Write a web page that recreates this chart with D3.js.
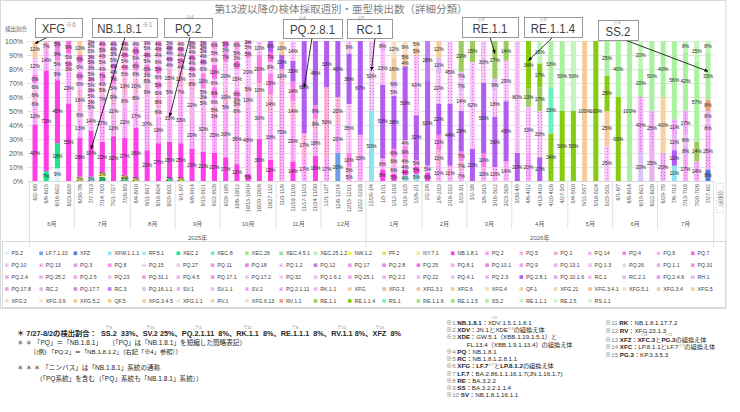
<!DOCTYPE html>
<html><head><meta charset="utf-8">
<script src="https://cdn.jsdelivr.net/npm/d3@7"></script>
<style>
body{margin:0;background:#fff}
svg{display:block}
text{font-family:"Liberation Sans","Noto Sans CJK JP",Arial,sans-serif;white-space:pre}
</style>
</head><body>
<svg id="c" width="740" height="412"></svg>
<script>
// ---------------- DATA ----------------
const seriesNames = [
 "PS.2","LF.7.1.10","XFZ","XFW.1.1.1","RF.5.1","XEC.2","XEC.8","XEC.26","XEC.4.5.1","XEC.25.1.2","NW.1.2","PF.2","NY.7.1","NB.1.8.1","PQ.2","PQ.5","PQ.1","PQ.14","PQ.4","PQ.6","PQ.7",
 "PQ.10","PQ.13","PQ.3","PQ.8","PQ.15","PQ.27","PQ.11","PQ.18","PQ.1.2","PQ.12","PQ.17","PQ.2.8","PQ.25","PQ.8.1","PQ.10.1","PQ.9","PQ.13.1","PQ.1.3","PQ.26","PQ.1.1","PQ.31",
 "PQ.2.4","PQ.25.2","PQ.2.5","PQ.23","PQ.31.1","PQ.4.5","PQ.17.1","PQ.17.2","PQ.32","PQ.1.6.1","PQ.25.1","PQ.2.2","PQ.22","PQ.4.1","PQ.2.3","PQ.2.8.1","PQ.10.1.6","RC.1","RC.2.1","PQ.2.4.6","RH.1",
 "PQ.17.8","RC.2","PQ.17.7","RC.3","PQ.16.1.1","SV.1","SV.1.1","SV.2","PQ.2.1.11","RK.1.1","XFG","XFG.3","XFG.3.1","XFG.6","XFG.4","QF.1","XFG.21","XFG.3.4.1","XFG.5.1","XFG.3.4","XFG.5",
 "XFG.2","XFG.3.9","XFG.5.2","QF.5","XFG.3.4.5","XFG.1.1","RV.1","XFG.6.13","RV.1.1","RE.1.1","RE.1.1.4","RS.1","RE.1.1.6","RE.1.1.5","SS.2","RE.1.1.1","RE.2.5","RS.1.1"
];
const seriesColors = [
 "#d8f4fa","#6f9fe6","#4f7fd8","#8fe3f5","#a6e9f4","#19e68c","#6ff2c0","#9ef07a","#8ee6a0","#b4f0b4","#f0f050","#e6e65a","#eded8a","#ff3ee8","#f59df0","#f4b3ee","#f3a3c9","#f2b0f4","#fb7fe8","#f7b3f3","#f56be0",
 "#f5c0f5","#f0a6ef","#f29ae8","#fb8ceb","#f3c3f1","#f0c9ef","#f492e7","#f77ee4","#f1b8f0","#c777ee","#ef9ae6","#f486e4","#f470e0","#f3b0ee","#f27fe6","#f29df0","#e9b6f5","#eebff3","#f3d0f3","#f2a9ee","#f391e8",
 "#f2a6ef","#f0b0ee","#f3a8f0","#f0c2f0","#f29ce8","#f2b1ee","#f197e6","#f0c5f0","#f0d0f2","#efbff2","#f5a4ee","#f1b6f1","#f1bbf0","#f0c0f2","#eab3f5","#b25cf2","#e7a8f3","#e8b2f2","#e3b6f5","#e2a2f4","#e7a9ef",
 "#f0a0e8","#ddb6f3","#c98cf0","#c07df2","#d9c4f3","#eab0f0","#efbff3","#e49eef","#e9a6f3","#eeb6f0","#f6cc9c","#f0b88f","#f3c29a","#f1cc9a","#f5dfb5","#f3d39e","#f1d6b6","#f0c08d","#f7e2bf","#efc9a8","#f6d2a0",
 "#f4e1c4","#f5e7c9","#f4ca8e","#f3d291","#f4cd9c","#f5ebd5","#f3d6a5","#f2e0c2","#f0a07a","#9ccc5c","#86cc12","#6ff2c1","#a4e27a","#95e86f","#aaf2a0","#c3f5bd","#cdf7cd","#d2f4d2"
];
const dottedSeries = ["PQ.2","PQ.14","PQ.6","PQ.13","PQ.15","PQ.1.2","RC.1","SV.2","PQ.2.1.11","RH.1","PQ.1"];

const weekLabels = [
 "6/2-6/8","6/9-6/15","6/16-6/22","6/23-6/29","6/30-7/6","7/7-7/13","7/14-7/20","7/21-7/27","7/28-8/3",
 "8/4-8/10","8/11-8/17","8/18-8/24","8/25-8/31","9/1-9/7","9/8-9/14","9/15-9/21","9/22-9/28",
 "9/29-10/5","10/6-10/12","10/13-10/19","10/20-10/26","10/27-11/2","11/3-11/9","11/10-11/16","11/17-11/23","11/24-11/30",
 "12/1-12/7","12/8-12/14","12/15-12/21","12/22-12/28",
 "12/29-1/4","1/5-1/11","1/12-1/18","1/19-1/25","1/26-2/1","2/2-2/8","2/9-2/15","2/16-2/22","2/23-3/1",
 "3/2-3/8","3/9-3/15","3/16-3/22","3/23-3/29","3/30-4/5","4/6-4/12","4/13-4/19","4/20-4/26","4/27-5/3",
 "5/4-5/10","5/11-5/17","5/18-5/24","5/25-5/31","6/1-6/7","6/8-6/14","6/15-6/21","6/22-6/28",
 "6/29-7/5","7/6-7/12","7/13-7/19","7/20-7/26","7/27-8/2"
];
const monthGroups = [["6月",4],["7月",5],["8月",4],["9月",4],["10月",5],["11月",4],["12月",4],
                     ["1月",5],["2月",4],["3月",4],["4月",5],["5月",4],["6月",4],["7月",5]];
const yearGroups = [["2025年",30],["2026年",31]];
const yTicks = [0,0.1,0.2,0.3,0.4,0.5,0.6,0.7,0.8,0.9,1];

// per-week detections (%), series name / value pairs
const weekMix = [
 ["NB.1.8.1",40,"PQ.2",12,"PQ.5",6,"PQ.1",6,"PQ.14",6,"PQ.4",6,"PQ.6",12,"XFG",12],
 ["XEC.2",7,"NB.1.8.1",72,"PQ.2",14,"PQ.1",7],
 ["PS.2",9,"XEC.2",18,"NB.1.8.1",45,"PQ.2",9,"PQ.5",5,"PQ.4",9,"PQ.7",5],
 ["NB.1.8.1",55,"PQ.2",23,"PQ.1",3,"PQ.4",5,"PQ.6",5,"PQ.7",9],
 ["NW.1.2",3,"NB.1.8.1",28,"PQ.2",13,"PQ.5",6,"PQ.1",16,"PQ.14",6,"PQ.4",6,"PQ.6",6,"PQ.7",6,"XFG",10],
 ["XFW.1.1.1",3,"NB.1.8.1",33,"PQ.2",14,"PQ.5",5,"PQ.1",3,"PQ.14",5,"PQ.4",3,"PQ.6",5,"PQ.7",3,"PQ.10",5,"PQ.13",3,"PQ.3",5,"PQ.8",3,"PQ.15",5,"PQ.27",3,"PQ.11",2],
 ["XEC.2",3,"NW.1.2",3,"NB.1.8.1",22,"PQ.2",27,"PQ.5",7,"PQ.1",5,"PQ.14",4,"PQ.4",7,"PQ.6",4,"PQ.10",5,"PQ.13",4,"PQ.3",5,"PQ.8",4],
 ["NB.1.8.1",32,"PQ.2",12,"PQ.5",11,"PQ.1",9,"PQ.14",5,"PQ.4",7,"PQ.6",4,"PQ.7",4,"PQ.10",5,"PQ.13",3,"PQ.3",4,"PQ.8",4],
 ["XEC.8",2,"NW.1.2",2,"NB.1.8.1",27,"PQ.2",22,"PQ.5",8,"PQ.1",13,"PQ.14",5,"PQ.4",4,"PQ.6",5,"PQ.7",4,"PQ.10",4,"PQ.3",4],
 ["NW.1.2",2,"NB.1.8.1",36,"PQ.2",17,"PQ.5",8,"PQ.1",10,"PQ.14",6,"PQ.4",6,"PQ.6",5,"PQ.7",6,"PQ.10",4],
 ["NB.1.8.1",22,"PQ.2",37,"PQ.5",9,"PQ.1",6,"PQ.14",3,"PQ.4",6,"PQ.6",5,"PQ.7",4,"PQ.10",5,"PQ.13",3],
 ["NB.1.8.1",27,"PQ.2",19,"PQ.5",6,"PQ.1",8,"PQ.14",6,"PQ.4",5,"PQ.6",6,"PQ.7",5,"PQ.10",6,"PQ.13",4,"PQ.3",4,"PQ.8",4],
 ["XEC.8",2,"NB.1.8.1",26,"PQ.2",33,"PQ.5",5,"PQ.1",15,"PQ.14",4,"PQ.4",4,"PQ.6",4,"PQ.7",4,"PQ.10",3],
 ["NW.1.2",2,"NB.1.8.1",25,"PQ.2",33,"PQ.5",7,"PQ.1",12,"PQ.14",4,"PQ.4",5,"PQ.6",4,"PQ.7",4,"PQ.10",4],
 ["NB.1.8.1",23,"PQ.2",20,"PQ.5",22,"PQ.1",8,"PQ.14",5,"PQ.4",4,"PQ.6",4,"PQ.7",4,"PQ.10",4,"PQ.13",3,"PQ.3",3],
 ["NB.1.8.1",21,"PQ.2",32,"PQ.5",5,"PQ.1",3,"PQ.14",5,"PQ.4",11,"PQ.6",6,"PQ.7",4,"PQ.10",4,"PQ.13",3,"PQ.3",3,"PQ.8",3],
 ["NB.1.8.1",20,"PQ.2",25,"PQ.5",3,"PQ.1",5,"PQ.14",6,"PQ.4",8,"PQ.6",6,"PQ.7",10,"PQ.10",6,"PQ.13",5,"PQ.3",6],
 ["NB.1.8.1",17,"PQ.2",33,"PQ.5",5,"PQ.1",10,"PQ.14",20,"PQ.4",7,"PQ.6",3,"PQ.7",5],
 ["NB.1.8.1",12,"PQ.2",35,"PQ.5",6,"PQ.1",3,"PQ.14",3,"PQ.4",6,"PQ.6",15,"PQ.7",6,"PQ.10",3,"PQ.13",5,"PQ.3",6],
 ["NB.1.8.1",5,"PQ.2",48,"PQ.5",10,"PQ.1",5,"PQ.14",20,"PQ.4",5,"PQ.6",5,"PQ.7",2],
 ["NB.1.8.1",30,"PQ.2",30,"PQ.1",10,"PQ.4",20,"PQ.6",10],
 ["NB.1.8.1",15,"PQ.2",33,"PQ.1",14,"PQ.4",15,"PQ.6",8,"PQ.7",7,"PQ.2.8.1",8],
 ["PQ.2",70,"PQ.1",10,"PQ.2.8.1",10,"XFG",10],
 ["NB.1.8.1",14,"PQ.2",29,"PQ.1",14,"PQ.4",14,"PQ.2.8.1",15,"RC.1",14],
 ["PQ.2",17,"PQ.1",17,"PQ.2.8.1",66],
 ["NB.1.8.1",18,"PQ.2",18,"PQ.1",9,"PQ.4",9,"PQ.2.8.1",46],
 ["PQ.2",17,"PQ.1",50,"PQ.2.8.1",33],
 ["LF.7.1.10",20,"PQ.2",20,"PQ.1",20,"PQ.2.8.1",40],
 ["PQ.2",5,"PQ.1",5,"PQ.4",10,"PQ.6",35,"PQ.2.8.1",36,"RC.1",9],
 ["PQ.2",33,"PQ.2.8.1",67],
 ["XFW.1.1.1",50,"RC.1",50],
 ["NB.1.8.1",8,"PQ.2",8,"PQ.2.8.1",53,"RC.1",23,"RH.1",8],
 ["NB.1.8.1",5,"PQ.2",6,"PQ.1",6,"PQ.4",6,"PQ.2.8.1",38,"RC.1",5,"RC.2.1",6,"XFG",16,"XFG.2",12],
 ["XFW.1.1.1",4,"NB.1.8.1",4,"PQ.2",4,"PQ.1",4,"PQ.4",9,"PQ.6",4,"PQ.2.8.1",53,"XFG",4,"XFG.3",5,"XFG.2",9],
 ["XFW.1.1.1",5,"NB.1.8.1",5,"PQ.2",5,"PQ.2.8.1",32,"RC.1",43,"XFG",5,"XFG.2",5],
 ["NB.1.8.1",6,"PQ.2",5,"PQ.2.8.1",61,"RC.3",28],
 ["PQ.2",11,"PQ.1",11,"PQ.4",11,"PQ.2.8.1",22,"RC.1",22,"RC.2.1",11,"XFG",12],
 ["PQ.2",11,"PQ.2.8.1",44,"RC.1",45],
 ["PQ.2",7,"PQ.1",7,"PQ.4",7,"PQ.2.8.1",29,"RC.1",14,"RC.2.1",7,"RH.1",7,"RE.1.1",22],
 ["PQ.2.8.1",23,"RC.1",62,"RE.1.1",15],
 ["PQ.2",10,"PQ.4",10,"PQ.2.8.1",50,"RC.1",30],
 ["PQ.2",10,"PQ.2.8.1",36,"RC.1",18,"RC.2.1",9,"RE.1.1",27],
 ["PQ.2",14,"PQ.2.8.1",43,"RC.1",29,"RE.1.1",14],
 ["PQ.2.8.1",20,"RC.1",80],
 ["PQ.2",20,"RC.1",33,"RE.1.1",13,"RE.1.1.4",34],
 ["PQ.2.8.1",17,"RC.1",33,"RE.1.1",17,"RE.1.1.4",17,"RE.1.1.1",16],
 ["RE.1.1.4",34,"RS.1",33,"SS.2",33],
 ["RE.1.1.4",50,"SS.2",50],
 ["RE.1.1.4",50,"RE.1.1.1",50],
 ["XFG",100],
 ["RE.1.1.4",100],
 ["RC.1",25,"XFG",25,"RE.1.1.4",25,"SS.2",25],
 ["RE.1.1.4",60,"SS.2",40],
 ["SS.2",100],
 ["PQ.16.1.1",20,"SV.2",40,"SS.2",20,"RE.1.1.1",20],
 ["SV.1",25,"SV.2",25,"SS.2",50],
 ["SV.2",20,"XFG.5",40,"SS.2",40],
 ["XFW.1.1.1",11,"PQ.2.8.1",11,"SV.1",11,"SV.2",11,"SS.2",56],
 ["PQ.2",17,"SV.1",8,"SV.1.1",8,"SV.2",17,"SS.2",42,"RE.1.1.1",8],
 ["SV.2",14,"RE.1.1",14,"SS.2",57,"RE.1.1.1",15],
 ["XFZ",8,"SV.2",25,"PQ.2.1.11",8,"RK.1.1",8,"RV.1.1",8,"SS.2",33,"RE.1.1.1",8]
];

// callouts: label, note, target week, target series, position along segment
const callouts = [
 ["XFG","※6",0,"XFG",0.85],
 ["NB.1.8.1","※1",5,"NB.1.8.1",0.6],
 ["PQ.2","※4",12,"PQ.2",0.55],
 ["PQ.2.8.1","※4",24,"PQ.2.8.1",0.5],
 ["RC.1","※5",30,"RC.1",0.58],
 ["RE.1.1","※8",41,"RE.1.1",0.67],
 ["RE.1.1.4","※8",44,"RE.1.1.4",0.59],
 ["SS.2","※9",60,"SS.2",0.6]
];
// ---------------- LAYOUT ----------------
const calloutLayout = [
 {x:35,y:18,w:47,h:19,inline:true,sx:48,sy:37},
 {x:92,y:18,w:65,h:19,inline:true,sx:125,sy:37},
 {x:164,y:18,w:48,h:19,nx:190,ny:18.5,sx:190,sy:37},
 {x:283,y:19,w:59,h:19,nx:302,ny:19.5,sx:312,sy:38},
 {x:347,y:19,w:45,h:19,nx:361,ny:19.5,sx:375,sy:38},
 {x:462,y:17,w:56,h:20,nx:481,ny:20.8,sx:490,sy:37},
 {x:524,y:17,w:58,h:20,nx:543,ny:20.8,sx:553,sy:37},
 {x:598,y:20,w:40,h:20,nx:617,ny:23.8,sx:625,sy:40}
];

const svg = d3.select("#c");
const defs = svg.append("defs");

// chart frame
svg.append("rect").attr("x",0.5).attr("y",0.5).attr("width",725.5).attr("height",308)
  .attr("fill","#fff").attr("stroke","#d9d9d9");

// patterns
const fillOf = {};
seriesNames.forEach((n,i)=>{
  const c = seriesColors[i];
  if (dottedSeries.includes(n)) {
    const id = "pat"+i;
    const p = defs.append("pattern").attr("id",id).attr("patternUnits","userSpaceOnUse").attr("width",3).attr("height",3);
    p.append("rect").attr("width",3).attr("height",3).attr("fill",d3.color(c).brighter(0.25));
    p.append("rect").attr("x",1).attr("y",1).attr("width",1).attr("height",1).attr("fill",d3.color(c).darker(0.7));
    fillOf[n] = `url(#${id})`;
  } else fillOf[n] = c;
});

// title
svg.append("text").attr("x",341).attr("y",13).attr("text-anchor","middle")
  .attr("font-size",10.5).attr("fill","#7f7f7f").attr("font-family","Noto Sans CJK JP")
  .text("第13波以降の検体採取週別・亜型検出数（詳細分類）");
svg.append("text").attr("x",5).attr("y",31).attr("font-size",5.5).attr("fill","#595959")
  .attr("font-family","Noto Sans CJK JP").text("検出割合");

// scales
const n = weekLabels.length;
const x = d3.scaleBand().domain(d3.range(n)).range([29.4,713.6]).paddingInner(0.55).paddingOuter(0.275);
const y = d3.scaleLinear().domain([0,1]).range([181,41]);
const bw = x.bandwidth();

// grid + y axis
const gy = svg.append("g").attr("transform","translate(27,0)")
  .call(d3.axisLeft(y).tickValues(yTicks).tickFormat(d3.format(".0%")).tickSize(-(713.6-27)).tickPadding(4));
gy.select(".domain").remove();
gy.selectAll(".tick line").attr("stroke","#d9d9d9").attr("stroke-width",0.7);
gy.selectAll(".tick text").attr("font-size",7).attr("fill","#595959");

// stack
const rows = weekMix.map((flat,i)=>{
  const r = {week:i};
  seriesNames.forEach(s=>r[s]=0);
  for (let k=0;k<flat.length;k+=2) r[flat[k]] = flat[k+1];
  return r;
});
const layers = d3.stack().keys(seriesNames).offset(d3.stackOffsetExpand)(rows);

const gBars = svg.append("g");
layers.forEach(layer=>{
  const name = layer.key;
  gBars.selectAll(null).data(layer.filter(d=>d.data[name]>0)).join("rect")
    .attr("x",d=>x(d.data.week)).attr("width",bw)
    .attr("y",d=>y(d[1])).attr("height",d=>y(d[0])-y(d[1]))
    .attr("fill",fillOf[name]);
});
const gLab = svg.append("g");
layers.forEach(layer=>{
  const name = layer.key;
  gLab.selectAll(null).data(layer.filter(d=>d.data[name]>0)).join("text")
    .attr("x",d=>x(d.data.week)+bw/2).attr("y",d=>(y(d[0])+y(d[1]))/2)
    .attr("dy","0.35em").attr("text-anchor","middle")
    .attr("font-size",5).attr("fill","#262626")
    .text(d=>d.data[name]+"%");
});

// x axis
const gx = svg.append("g").attr("transform","translate(0,181)")
  .call(d3.axisBottom(x).tickSize(0).tickFormat(i=>weekLabels[i]));
gx.select(".domain").attr("stroke","#d9d9d9");
gx.selectAll(".tick text").attr("transform","rotate(-90)").attr("text-anchor","end")
  .attr("x",-3).attr("y",0).attr("dy","0.35em").attr("font-size",5.3).attr("fill","#595959");

// group separators
const pi = x.paddingInner(), st = x.step();
const boundary = k => k < n ? x(k) - st*pi/2 : x(n-1) + bw + st*pi/2;
const gGrp = svg.append("g");
let k = 0;
const monthBounds = [0];
monthGroups.forEach(([lab,c])=>{
  const a = boundary(k), b = boundary(k+c);
  gGrp.append("text").attr("x",(a+b)/2).attr("y",225.5).attr("text-anchor","middle")
    .attr("font-size",6).attr("fill","#595959").attr("font-family","Noto Sans CJK JP").text(lab);
  k += c; monthBounds.push(k);
});
const yearBounds = [0];
k = 0;
yearGroups.forEach(([lab,c])=>{
  const a = boundary(k), b = boundary(k+c);
  gGrp.append("text").attr("x",(a+b)/2).attr("y",239.5).attr("text-anchor","middle")
    .attr("font-size",6).attr("fill","#595959").attr("font-family","Noto Sans CJK JP").text(lab);
  k += c; yearBounds.push(k);
});
monthBounds.forEach(b=>{
  const isYear = yearBounds.includes(b);
  gGrp.append("line").attr("x1",boundary(b)).attr("x2",boundary(b))
    .attr("y1",181).attr("y2",isYear?247:229).attr("stroke","#d9d9d9").attr("stroke-width",0.8);
});
// dashed note box at right
svg.append("rect").attr("x",716.5).attr("y",183.5).attr("width",7).attr("height",29)
  .attr("fill","none").attr("stroke","#bfbfbf").attr("stroke-dasharray","1.5,1.5").attr("stroke-width",0.6);
svg.append("text").attr("transform","translate(721.5,198) rotate(-90)").attr("text-anchor","middle")
  .attr("font-size",4.5).attr("fill","#7f7f7f").attr("font-family","Noto Sans CJK JP").text("（速報値）");

// legend
svg.append("rect").attr("x",2.5).attr("y",241.5).attr("width",723).attr("height",66)
  .attr("fill","none").attr("stroke","#d9d9d9");
const gLeg = svg.append("g");
seriesNames.forEach((nm,i)=>{
  const col = i%21, row = Math.floor(i/21);
  const lx = 5 + col*34.3, ly = 253.3 + row*11.9;
  gLeg.append("rect").attr("x",lx).attr("y",ly-1.8).attr("width",3.6).attr("height",3.6).attr("fill",fillOf[nm]);
  gLeg.append("text").attr("x",lx+6.5).attr("y",ly).attr("dy","0.35em").attr("font-size",5.3).attr("fill","#404040").text(nm);
});

// callouts
defs.append("marker").attr("id","arr").attr("viewBox","0 0 6 6").attr("refX",5.5).attr("refY",3)
  .attr("markerWidth",5).attr("markerHeight",5).attr("orient","auto")
  .append("path").attr("d","M0,0.5L6,3L0,5.5Z").attr("fill","#000");
const gCall = svg.append("g");
callouts.forEach(([lab,note,wk,ser,f],i)=>{
  const L = calloutLayout[i];
  const layer = layers[seriesNames.indexOf(ser)];
  const seg = layer[wk];
  const tx = x(wk)+bw/2, ty = y(seg[0] + (seg[1]-seg[0])*f);
  gCall.append("line").attr("x1",L.sx).attr("y1",L.sy).attr("x2",tx).attr("y2",ty)
    .attr("stroke","#000").attr("stroke-width",0.8).attr("marker-end","url(#arr)");
  gCall.append("rect").attr("x",L.x+0.5).attr("y",L.y+0.5).attr("width",L.w).attr("height",L.h)
    .attr("fill","#fff").attr("stroke","#7f7f7f").attr("stroke-width",0.8);
  const base = L.y + L.h - 4.5;
  const t = gCall.append("text").attr("font-size",13).attr("fill","#404040").text(lab);
  const w = t.node().getComputedTextLength()*0.88;
  let nw = 0;
  if (L.inline) {
    const tmp = gCall.append("text").attr("font-size",6.5).text(note);
    nw = tmp.node().getComputedTextLength(); tmp.remove();
  }
  const left = L.x + L.w/2 - (w+nw)/2;
  t.attr("transform",`translate(${left},${base}) scale(0.88,1)`);
  if (L.inline) {
    gCall.append("text").attr("x",left+w+0.5).attr("y",base-6).attr("font-size",6.5)
      .attr("fill","#9b8fb0").text(note);
  } else {
    gCall.append("text").attr("x",L.nx).attr("y",L.ny).attr("text-anchor","middle")
      .attr("font-size",4.5).attr("fill","#9b8fb0").text(note);
  }
});

// rich text helper
function rich(g, x0, y0, parts, fs){
  let cx = x0;
  parts.forEach(p=>{
    if (typeof p === "string") p = {t:p};
    const size = p.sup ? fs*0.6 : fs;
    const t = g.append("text").attr("xml:space","preserve").attr("x",cx).attr("y",p.sup ? y0-fs*0.4 : y0)
      .attr("font-size",size).attr("font-weight",p.b?"bold":null)
      .attr("fill",p.c || (p.sup?"#808080":"#262626")).text(p.t);
    const w = t.node().getComputedTextLength();
    if (p.r) g.append("text").attr("x",cx+w/2).attr("y",y0-fs*0.95).attr("text-anchor","middle")
      .attr("font-size",fs*0.55).attr("fill","#808080").text(p.r);
    cx += w;
  });
}
const gN = svg.append("g").attr("font-family","Noto Sans CJK JP");
const B = (t,r)=>({t,b:true,r});
rich(gN,17,336,[B("＊ 7/27-8/2の検出割合：  "),B("SS.2","※9"),B("  33%、"),B("SV.2","※10"),B(" 25%、"),
  B("PQ.2.1.11","※4"),B("  8%、"),B("RK.1.1","※11"),B("  8%、"),B("RE.1.1.1","※8"),B("  8%、"),
  B("RV.1.1","※12"),B(" 8%、"),B("XFZ","※13"),B("  8%")],7.3);
rich(gN,17,345,["＊ ＊ 「PQ」＝「NB.1.8.1」　　（「PQ」は「NB.1.8.1」を短縮した簡略表記）"],6.6);
rich(gN,30,354,["（(例) 「PQ.2」＝「NB.1.8.1.2」（右記「※4」参照））"],6.2);
rich(gN,17,370,["＊ ＊ ＊ 「ニンバス」は「NB.1.8.1」系統の通称"],6.6);
rich(gN,36,381,["（「PQ系統」を含む（「PQ」系統も「NB.1.8.1」系統））"],6.6);

const G = t=>({t,c:"#808080"});
const notes1 = [
 [G("※1 "),B("NB.1.8.1"),"：",{t:"XDV",r:"※2"},".1.5.1.1.8.1"],
 [G("※2 "),B("XDV"),"：JN.1とXDE",{t:"※3",sup:true},"の組換え体"],
 [G("※3 "),B("XDE"),"：GW.5.1（XBB.1.19.1.5.1）と"],
 ["            FL.13.4（XBB.1.9.1.13.4）の組換え体"],
 [G("※4 "),B("PQ"),"：NB.1.8.1"],
 [G("※5 "),B("RC"),"：NB.1.8.1.2.8.1.1"],
 [G("※6 "),B("XFG"),"：",B("LF.7"),{t:"※7",sup:true},"と",B("LP.8.1.2"),"の組換え体"],
 [G("※7 "),B("LF.7"),"：BA.2.86.1.1.16.1.7(JN.1.16.1.7)"],
 [G("※8 "),B("RE"),"：BA.3.2.2"],
 [G("※9 "),B("SS"),"：BA.3.2.2.1.1.4"],
 [G("※10 "),B("SV"),"：NB.1.8.1.16.1.1"]
];
notes1.forEach((p,i)=>rich(gN,446,325+i*7.23,p,6.2));
const notes2 = [
 [G("※11 "),B("RK"),"：NB.1.8.1.17.7.2"],
 [G("※12 "),B("RV"),"：XFG.23.1.3"],
 [G("※13 "),B("XFZ"),"：",B("XFC","※14"),B(".3"),"と",B("PG.3","※15"),"の組換え体"],
 [G("※14 "),B("XFC"),"：LP.8.1.1とLF.7",{t:"※7",sup:true},"の組換え体"],
 [G("※15 "),B("PG.3"),"：KP.3.3.5.3"]
];
const n2y = [325,332.7,341.7,349.3,356.7];
notes2.forEach((p,i)=>rich(gN,605,n2y[i],p,6.2));
</script>
</body></html>
